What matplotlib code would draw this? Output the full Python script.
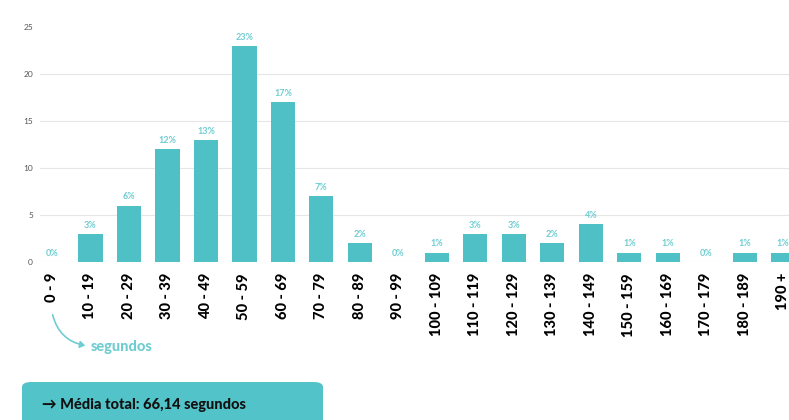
import matplotlib.pyplot as plt
from matplotlib.patches import FancyBboxPatch, FancyArrowPatch

# Dados: tempo de resposta por faixa (segundos)
categorias = ["0 - 9", "10 - 19", "20 - 29", "30 - 39", "40 - 49", "50 - 59",
              "60 - 69", "70 - 79", "80 - 89", "90 - 99", "100 - 109", "110 - 119",
              "120 - 129", "130 - 139", "140 - 149", "150 - 159", "160 - 169",
              "170 - 179", "180 - 189", "190 +"]
valores = [0, 3, 6, 12, 13, 23, 17, 7, 2, 0, 1, 3, 3, 2, 4, 1, 1, 0, 1, 1]
percentuais = ["0%", "3%", "6%", "12%", "13%", "23%", "17%", "7%", "2%", "0%",
               "1%", "3%", "3%", "2%", "4%", "1%", "1%", "0%", "1%", "1%"]
yticks = [0, 5, 10, 15, 20, 25]
media_txt = "→ Média total: 66,14 segundos"

plt.rcParams['font.family'] = ['Lato', 'DejaVu Sans']

W, H = 789, 420
cor_barra = "#4fc1c6"
cor_label = "#6fcdd1"

fig = plt.figure(figsize=(W / 100, H / 100), dpi=100)
ax = fig.add_axes([40 / W, (H - 262) / H, (W - 40) / W, 235 / H])

x = list(range(len(categorias)))
ax.bar(x, valores, width=0.63, color=cor_barra, zorder=3)

for xi, v, p in zip(x, valores, percentuais):
    ax.annotate(p, (xi, v), xytext=(0, 3), textcoords="offset points",
                ha="center", va="bottom", fontsize=6.5, fontweight="bold",
                color=cor_label, zorder=4)

ax.set_xlim(-0.31, 19.15)
ax.set_ylim(0, 25)
ax.set_yticks(yticks)
ax.set_yticklabels([str(t) for t in yticks], fontsize=6, color="#555555")
ax.set_xticks(x)
ax.set_xticklabels(categorias, rotation=90, fontsize=10.5, fontweight="black",
                   color="black", va="top", ha="center")
ax.tick_params(axis="both", length=0)
ax.tick_params(axis="y", pad=5)
ax.tick_params(axis="x", pad=8)

ax.grid(axis="y", color="#e6e6e6", linewidth=0.8, zorder=0)
ax.yaxis.get_gridlines()[-1].set_visible(False)
for s in ax.spines.values():
    s.set_visible(False)

# anotação "segundos"
seta = FancyArrowPatch((52 / W, (H - 312) / H), (88 / W, (H - 346) / H),
                       transform=fig.transFigure, arrowstyle="-|>,head_length=3,head_width=2",
                       connectionstyle="arc3,rad=0.35", color=cor_label, lw=1.2)
fig.patches.append(seta)
fig.text(91 / W, (H - 347) / H, "segundos", fontsize=10.5, fontweight="black",
         color=cor_label, va="center", ha="left")

# caixa da média
caixa = FancyBboxPatch((22 / W, (H - 430) / H), 301 / W, 48 / H,
                       boxstyle="round,pad=0,rounding_size=0.012",
                       transform=fig.transFigure, facecolor="#52c3c8",
                       edgecolor="none")
fig.patches.append(caixa)
fig.text(42 / W, (H - 405) / H, media_txt, fontsize=10.5, fontweight="black",
         color="#111111", va="center", ha="left")

fig.savefig("out.png", dpi=100)
